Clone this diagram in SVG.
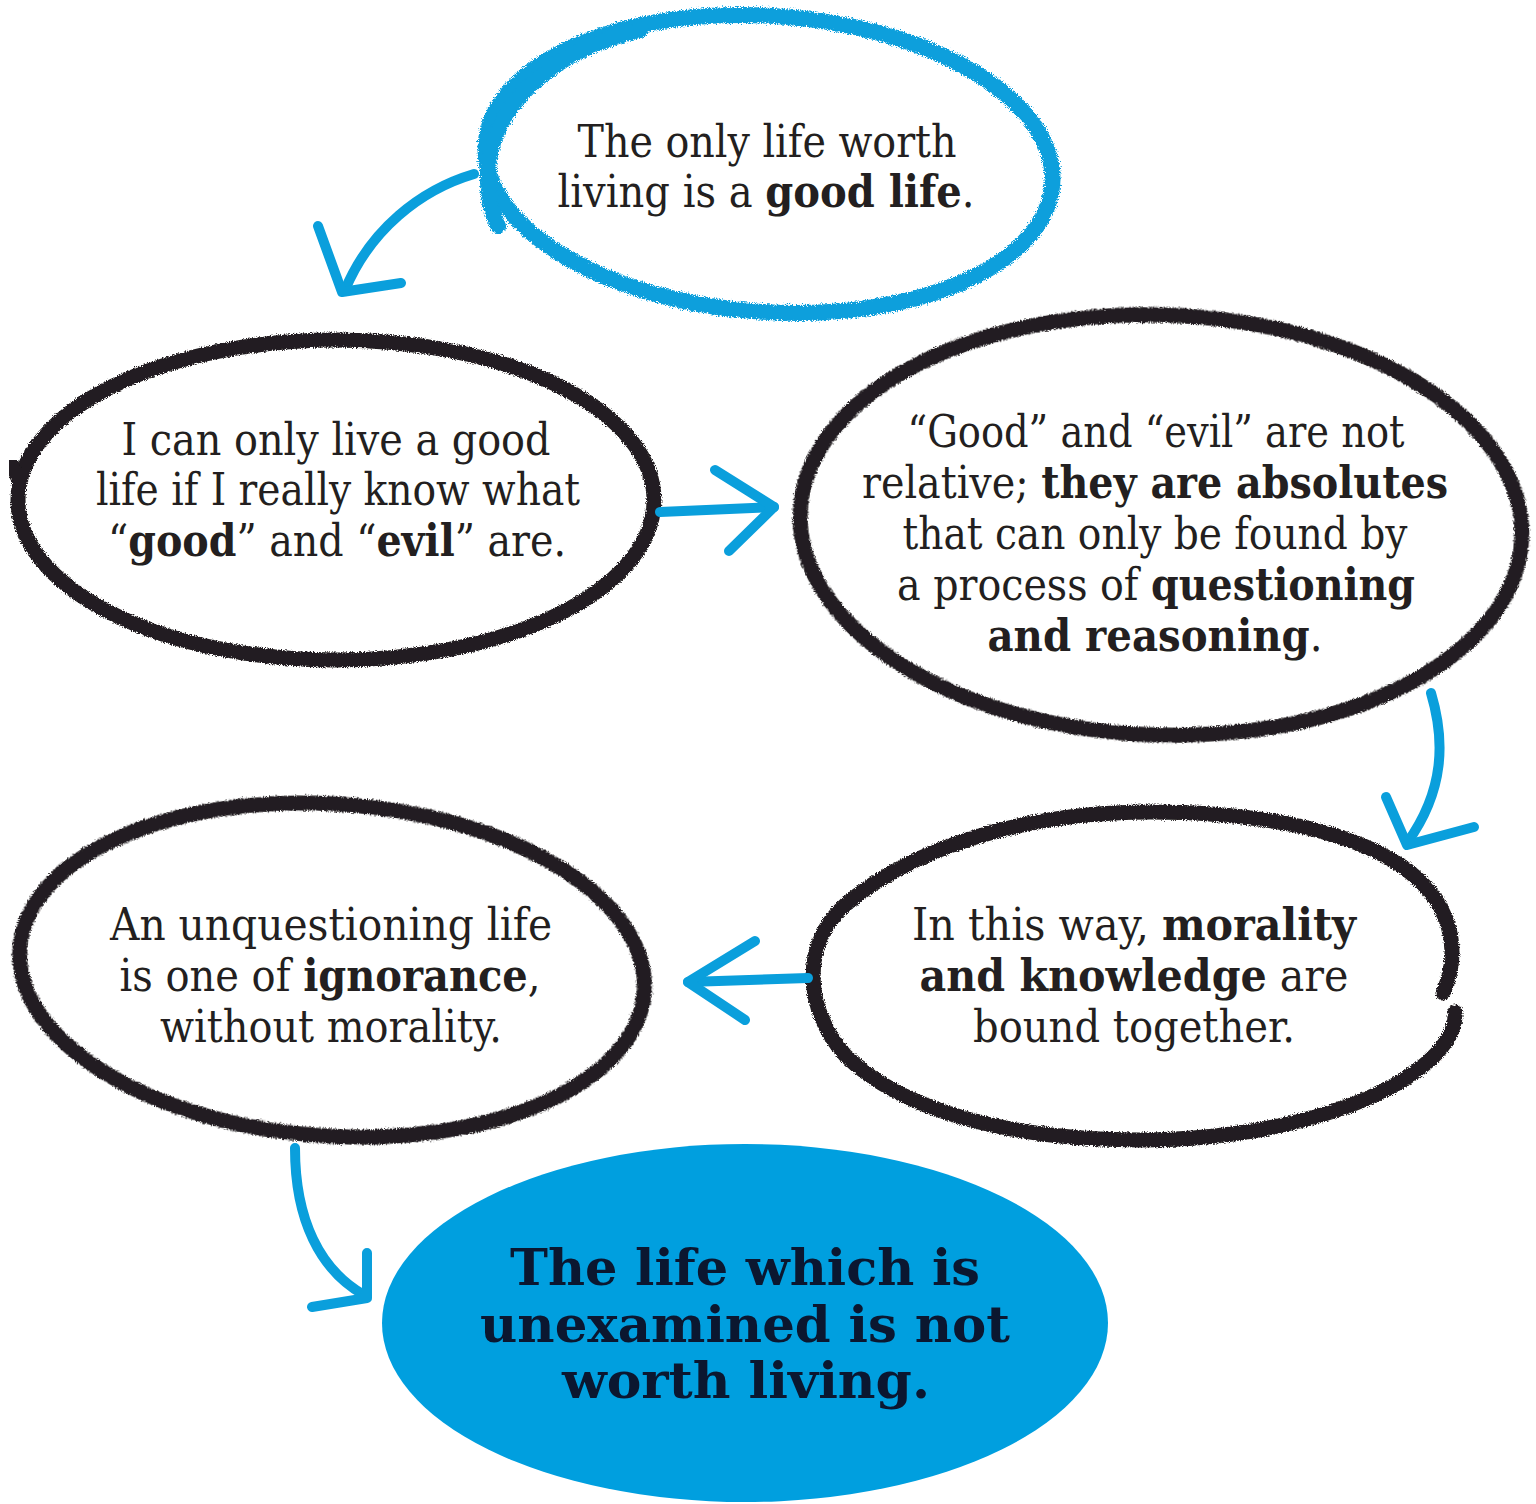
<svg xmlns="http://www.w3.org/2000/svg" width="1536" height="1504" viewBox="0 0 1536 1504">
<defs>
<filter id="rough" x="-5%" y="-5%" width="110%" height="110%">
<feTurbulence type="fractalNoise" baseFrequency="0.9" numOctaves="2" seed="3" result="n"/>
<feDisplacementMap in="SourceGraphic" in2="n" scale="5" xChannelSelector="R" yChannelSelector="G"/>
</filter>
<filter id="chalk" x="-5%" y="-5%" width="110%" height="110%">
<feTurbulence type="fractalNoise" baseFrequency="1.2" numOctaves="2" seed="7" result="n"/>
<feDisplacementMap in="SourceGraphic" in2="n" scale="7" xChannelSelector="R" yChannelSelector="G"/>
</filter>
<style>
.ring{fill:none;stroke:#231f20;stroke-width:15;stroke-linecap:round}
.bring{fill:none;stroke:#0a9fdc;stroke-width:16;stroke-linecap:round}
.arr{fill:none;stroke:#0a9fdc;stroke-width:10;stroke-linecap:round;stroke-linejoin:round}
.t{font-family:"DejaVu Serif Condensed","DejaVu Serif",serif;font-size:44px;fill:#231f20;text-anchor:middle}
.b{font-weight:bold}
.big{font-family:"DejaVu Serif Condensed","DejaVu Serif",serif;font-size:50px;font-weight:bold;fill:#0b1730;text-anchor:middle}
</style>
</defs>
<rect width="1536" height="1504" fill="#ffffff"/>

<g id="node1">
<g filter="url(#chalk)">
<ellipse class="bring" cx="769" cy="164" rx="284" ry="148" transform="rotate(4 769 164)"/>
<path class="bring" d="M640 30 C545 52 490 112 488 172 C487 195 491 212 498 226" stroke-width="12"/>
</g>
<text class="t" x="767" y="157" textLength="379" lengthAdjust="spacingAndGlyphs">The only life worth</text>
<text class="t" x="766" y="207" textLength="417" lengthAdjust="spacingAndGlyphs">living is a <tspan class="b">good life</tspan>.</text>
</g>

<g id="node2">
<ellipse class="ring" cx="336" cy="500" rx="318" ry="160" filter="url(#rough)"/>
<path class="ring" d="M10 462 C14 470 18 478 22 486" filter="url(#rough)"/>
<text class="t" x="336" y="455" textLength="429" lengthAdjust="spacingAndGlyphs">I can only live a good</text>
<text class="t" x="338" y="505" textLength="484" lengthAdjust="spacingAndGlyphs">life if I really know what</text>
<text class="t" x="337" y="556" textLength="458" lengthAdjust="spacingAndGlyphs">“<tspan class="b">good</tspan>” and “<tspan class="b">evil</tspan>” are.</text>
</g>

<g id="node3">
<ellipse class="ring" cx="1161" cy="525" rx="361" ry="210" transform="rotate(2 1161 525)" filter="url(#rough)"/>
<text class="t" x="1156" y="447" textLength="497" lengthAdjust="spacingAndGlyphs">“Good” and “evil” are not</text>
<text class="t" x="1155" y="498" textLength="586" lengthAdjust="spacingAndGlyphs">relative; <tspan class="b">they are absolutes</tspan></text>
<text class="t" x="1155" y="549" textLength="505" lengthAdjust="spacingAndGlyphs">that can only be found by</text>
<text class="t" x="1156" y="600" textLength="518" lengthAdjust="spacingAndGlyphs">a process of <tspan class="b">questioning</tspan></text>
<text class="t" x="1155" y="651" textLength="335" lengthAdjust="spacingAndGlyphs"><tspan class="b">and reasoning</tspan>.</text>
</g>

<g id="node4">
<ellipse class="ring" cx="332" cy="970" rx="313" ry="166" transform="rotate(4 332 970)" filter="url(#rough)"/>
<text class="t" x="331" y="940" textLength="442" lengthAdjust="spacingAndGlyphs">An unquestioning life</text>
<text class="t" x="330" y="991" textLength="421" lengthAdjust="spacingAndGlyphs">is one of <tspan class="b">ignorance</tspan>,</text>
<text class="t" x="331" y="1042" textLength="342" lengthAdjust="spacingAndGlyphs">without morality.</text>
</g>

<g id="node5">
<path class="ring" filter="url(#rough)" d="M1443 993 C1462 950 1452 900 1400 865 C1340 825 1240 812 1150 812 C1020 812 910 850 845 905 C800 945 805 1010 845 1055 C900 1110 1010 1140 1140 1140 C1270 1140 1380 1105 1430 1060 C1448 1043 1456 1027 1455 1012"/>
<text class="t" x="1134" y="940" textLength="444" lengthAdjust="spacingAndGlyphs">In this way, <tspan class="b">morality</tspan></text>
<text class="t" x="1134" y="991" textLength="429" lengthAdjust="spacingAndGlyphs"><tspan class="b">and knowledge</tspan> are</text>
<text class="t" x="1134" y="1042" textLength="322" lengthAdjust="spacingAndGlyphs">bound together.</text>
</g>

<g id="node6">
<ellipse cx="745" cy="1323" rx="363" ry="179" fill="#009fdf"/>
<text class="big" x="745" y="1285" textLength="470" lengthAdjust="spacingAndGlyphs">The life which is</text>
<text class="big" x="745" y="1342" textLength="530" lengthAdjust="spacingAndGlyphs">unexamined is not</text>
<text class="big" x="746" y="1398" textLength="368" lengthAdjust="spacingAndGlyphs">worth living.</text>
</g>

<g id="connectors">
<path class="arr" d="M474 174 C420 190 370 230 345 290" stroke-width="12"/>
<path class="arr" d="M318 226 L342 292 L401 283"/>
<path class="arr" d="M660 512 L774 507"/>
<path class="arr" d="M715 470 L774 507 L729 551"/>
<path class="arr" d="M1431 693 C1445 740 1445 790 1407 843" stroke-width="11"/>
<path class="arr" d="M1386 797 L1407 845 L1474 827"/>
<path class="arr" d="M808 978 L688 982"/>
<path class="arr" d="M755 941 L688 982 L745 1020"/>
<path class="arr" d="M295 1148 C295 1220 320 1270 364 1295" stroke-width="9"/>
<path class="arr" d="M367 1253 L367 1298 L312 1307"/>
</g>
</svg>
